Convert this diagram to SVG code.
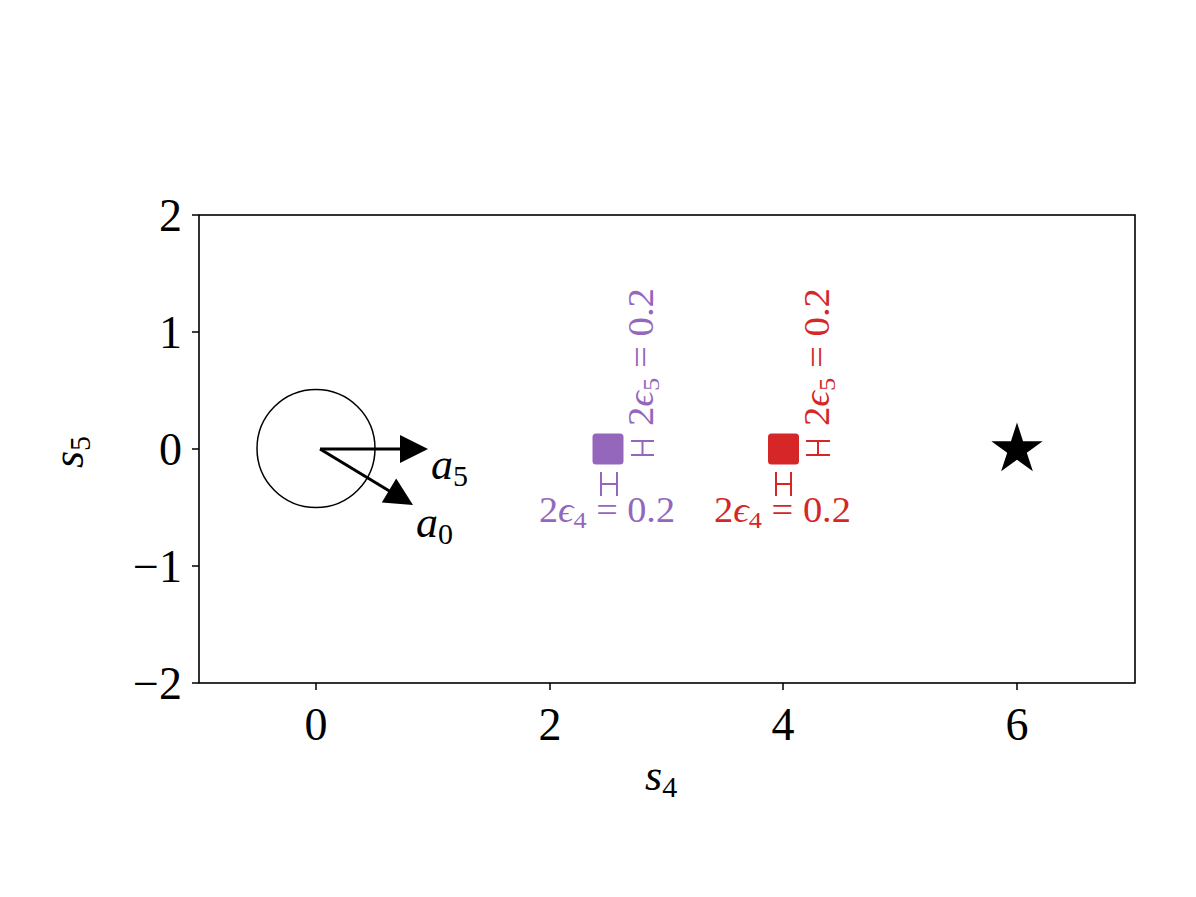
<svg xmlns="http://www.w3.org/2000/svg" width="1196" height="897" viewBox="0 0 1196 897">
<defs>
<style>
.tick{stroke:#000;stroke-width:1.5;fill:none}
.tl{font-family:"Liberation Serif","DejaVu Serif",serif;font-size:46px;fill:#000}
.mi{font-family:"Liberation Serif","DejaVu Serif",serif;font-style:italic;font-size:44px;fill:#000}
.sub{font-style:normal;font-size:30px}
.lab{font-family:"Liberation Serif","DejaVu Serif",serif;font-size:35px}
.purple{fill:#9467bd}
.red{fill:#d62728}
.eb{fill:none;stroke-width:2}
</style>
</defs>
<rect x="0" y="0" width="1196" height="897" fill="#fff"/>

<g id="axes">
<rect x="199" y="215" width="936" height="468" fill="none" stroke="#000" stroke-width="1.6"/>
<path class="tick" d="M316,683v7M550,683v7M783,683v7M1017,683v7M199,215h-7M199,332h-7M199,449h-7M199,566h-7M199,683h-7"/>
<g text-anchor="middle">
<text class="tl" x="316" y="740">0</text>
<text class="tl" x="550" y="740">2</text>
<text class="tl" x="783" y="740">4</text>
<text class="tl" x="1017" y="740">6</text>
</g>
<g text-anchor="end">
<text class="tl" x="182" y="231">2</text>
<text class="tl" x="182" y="348">1</text>
<text class="tl" x="182" y="465">0</text>
<text class="tl" x="182" y="582">−1</text>
<text class="tl" x="182" y="699">−2</text>
</g>
<text class="mi" x="645" y="790">s<tspan class="sub" dy="7">4</tspan></text>
<text class="mi" transform="translate(83,468) rotate(-90)">s<tspan class="sub" dy="7">5</tspan></text>
</g>

<g id="circle">
<circle cx="316" cy="448.5" r="59" fill="none" stroke="#000" stroke-width="1.5"/>
</g>

<g id="connectors">
<g id="arrow-a5">
<line x1="320" y1="449" x2="402" y2="449" stroke="#000" stroke-width="3"/>
<polygon points="428,449 400,435 400,463" fill="#000"/>
</g>
<g id="arrow-a0">
<line x1="320" y1="449" x2="391" y2="492" stroke="#000" stroke-width="3"/>
<polygon points="413,505 381.8,502.6 396.2,478.6" fill="#000"/>
</g>
</g>

<g id="label-a5"><text class="mi" x="431" y="479">a<tspan class="sub" dy="7">5</tspan></text></g>
<g id="label-a0"><text class="mi" x="416" y="537">a<tspan class="sub" dy="7">0</tspan></text></g>

<g id="node-purple">
<rect x="592.5" y="433.5" width="31" height="31" rx="3.5" class="purple"/>
<path class="eb" stroke="#9467bd" d="M601,472v24M617,472v24M601,484h16M631,441h23M631,455h23M642.5,441v14"/>
<text class="lab purple" x="539" y="522" textLength="136" lengthAdjust="spacingAndGlyphs">2<tspan font-style="italic">ϵ</tspan><tspan font-size="24" dy="6">4</tspan><tspan dy="-6"> = 0.2</tspan></text>
<text class="lab purple" transform="translate(653,426) rotate(-90)" textLength="138" lengthAdjust="spacingAndGlyphs">2<tspan font-style="italic">ϵ</tspan><tspan font-size="24" dy="6">5</tspan><tspan dy="-6"> = 0.2</tspan></text>
</g>

<g id="node-red">
<rect x="768" y="433.5" width="31" height="31" rx="3.5" class="red"/>
<path class="eb" stroke="#d62728" d="M776,472v24M791,472v24M776,484h15M806,441h24M806,455h24M818,441v14"/>
<text class="lab red" x="714" y="522" textLength="137" lengthAdjust="spacingAndGlyphs">2<tspan font-style="italic">ϵ</tspan><tspan font-size="24" dy="6">4</tspan><tspan dy="-6"> = 0.2</tspan></text>
<text class="lab red" transform="translate(829,426) rotate(-90)" textLength="138" lengthAdjust="spacingAndGlyphs">2<tspan font-style="italic">ϵ</tspan><tspan font-size="24" dy="6">5</tspan><tspan dy="-6"> = 0.2</tspan></text>
</g>

<g id="node-star">
<path d="M1017,422.5 L1023.06,441.16 L1042.68,441.16 L1026.81,452.69 L1032.87,471.34 L1017,459.81 L1001.13,471.34 L1007.19,452.69 L991.32,441.16 L1010.94,441.16 Z" fill="#000"/>
</g>
</svg>
